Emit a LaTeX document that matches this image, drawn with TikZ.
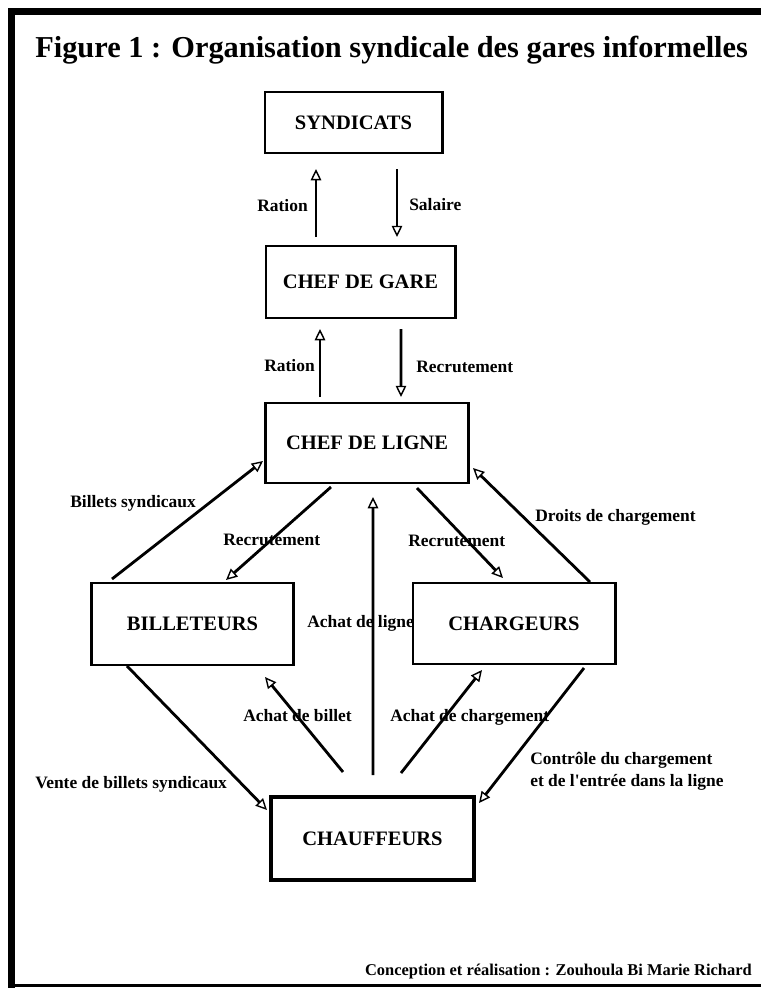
\documentclass[tikz,border=0pt]{standalone}
\usepackage{fontspec}
\setmainfont{Liberation Serif}
\usetikzlibrary{arrows.meta,calc}

\tikzset{
	box/.style={draw, fill=white, line width=2.1pt, inner sep=0pt, font=\fontsize{14.6}{17}\selectfont\bfseries},
	flow/.style={-{Triangle[open,length=8pt,width=7.5pt,line width=1pt]}, line width=2pt},
	lbl/.style={inner sep=0pt, anchor=base west, font=\fontsize{12.4}{15.6}\selectfont\bfseries}
}

\begin{document}
\begin{tikzpicture}[x=0.025cm,y=-0.025cm]
			\useasboundingbox (0,0) rectangle (761,988);
			\draw[line width=5pt] (11.5,988) -- (11.5,11.5) -- (761,11.5);
			\draw[line width=1.8pt] (8,985.5) -- (761,985.5);
			\node[anchor=base west, inner sep=0pt, font=\fontsize{21.6}{26}\selectfont\bfseries] (titre) at (35,57) {Figure 1 : Organisation syndicale des gares informelles};

			\node[lbl, anchor=base east] (ration1) at (308,211.5) {Ration};
			\node[lbl] (salaire) at (409,210.5) {Salaire};
			\node[lbl, anchor=base east] (ration2) at (315,371.5) {Ration};
			\node[lbl] (recrut1) at (416,372.5) {Recrutement};
			\node[lbl] (billsynd) at (70,507.5) {Billets syndicaux};
			\node[lbl] (recrut2) at (223,545.5) {Recrutement};
			\node[lbl] (recrut3) at (408,546.5) {Recrutement};
			\node[lbl] (droits) at (535,521.5) {Droits de chargement};
			\node[lbl] (achligne) at (307,627.5) {Achat de ligne};
			\node[lbl] (achbillet) at (243,721.5) {Achat de billet};
			\node[lbl] (achcharg) at (390,721.5) {Achat de chargement};
			\node[lbl] (vente) at (35,788.5) {Vente de billets syndicaux};
			\node[lbl, anchor=west, align=left] (controle) at (530,771) {Contrôle du chargement\\et de l\textquotesingle entrée dans la ligne};

			\node[box, minimum width=4.425cm, minimum height=1.525cm] (syn) at (353.5,122.5) {SYNDICATS};
			\node[box, minimum width=4.725cm, minimum height=1.8cm] (gare) at (360.5,282) {CHEF DE GARE};
			\node[box, minimum width=5.05cm, minimum height=2cm] (ligne) at (367,443) {CHEF DE LIGNE};
			\node[box, minimum width=5.025cm, minimum height=2.05cm] (bill) at (192.5,624) {BILLETEURS};
			\node[box, minimum width=5.05cm, minimum height=2.025cm] (charg) at (514,623.5) {CHARGEURS};
			\node[box, line width=3.2pt, minimum width=5.075cm, minimum height=2.075cm] (chauf) at (372.5,838.5) {CHAUFFEURS};

			\draw[flow] ($(gare)+(-44.5,-45)$) -- ($(syn)+(-37.5,46.5)$);
			\draw[flow] ($(syn)+(43.5,46.5)$) -- ($(gare)+(36.5,-45)$);
			\draw[flow] ($(ligne)+(-47,-46)$) -- ($(gare)+(-40.5,47)$);
			\draw[flow] ($(gare)+(40.5,47)$) -- ($(ligne)+(34,-46)$);
			\draw[flow] ($(bill)+(-80.5,-45)$) -- ($(ligne)+(-104,18)$);
			\draw[flow] ($(ligne)+(-36,44)$) -- ($(bill)+(33.5,-44)$);
			\draw[flow] ($(ligne)+(50,45)$) -- ($(charg)+(-11,-45.5)$);
			\draw[flow] ($(charg)+(76,-41.5)$) -- ($(ligne)+(106,25)$);
			\draw[flow] ($(chauf)+(0.5,-63.5)$) -- ($(ligne)+(6,54)$);
			\draw[flow] ($(chauf)+(-29.5,-66.5)$) -- ($(bill)+(72.5,53)$);
			\draw[flow] ($(chauf)+(28.5,-65.5)$) -- ($(charg)+(-32,46.5)$);
			\draw[flow] ($(bill)+(-65.5,42)$) -- ($(chauf)+(-105.5,-28.5)$);
			\draw[flow] ($(charg)+(70,44.5)$) -- ($(chauf)+(106.5,-35.5)$);

			\node[anchor=base east, inner sep=0pt, font=\fontsize{11.7}{14}\selectfont\bfseries] (auteur) at (752,975.5) {Conception et réalisation : Zouhoula Bi Marie Richard};
		\end{tikzpicture}
\end{document}
